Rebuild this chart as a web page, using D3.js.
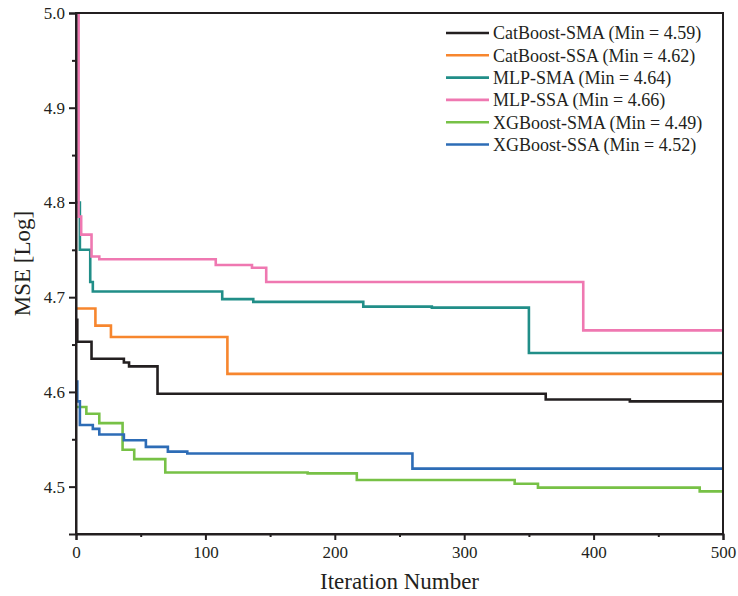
<!DOCTYPE html>
<html>
<head>
    <title>MSE convergence</title>
    <style>
        body {
            margin: 0;
            padding: 0;
            background: #fff;
        }
        svg text {
            font-family: "Liberation Serif", "Times New Roman", serif;
            fill: #231f20;
        }
    </style>
</head>
<body>
    <div id="chart"></div>

    <script src="https://d3js.org/d3.v7.min.js"></script>
    <script>
        // step points (iteration, best MSE so far)
        const catSmaIter = [0, 1, 12, 37, 41, 63, 363, 428, 500];
        const catSmaVal  = [4.676, 4.653, 4.635, 4.631, 4.627, 4.598, 4.592, 4.590, 4.590];

        const catSsaIter = [0, 15, 27, 117, 500];
        const catSsaVal  = [4.688, 4.670, 4.658, 4.619, 4.619];

        const mlpSmaIter = [0, 3, 11, 13, 113, 137, 222, 275, 350, 500];
        const mlpSmaVal  = [4.800, 4.750, 4.716, 4.706, 4.698, 4.695, 4.690, 4.689, 4.641, 4.641];

        const mlpSsaIter = [0, 2, 4, 12, 18, 108, 136, 147, 392, 500];
        const mlpSsaVal  = [5.300, 4.785, 4.766, 4.743, 4.740, 4.734, 4.731, 4.716, 4.665, 4.665];

        const xgbSmaIter = [0, 8, 18, 36, 45, 69, 179, 217, 339, 357, 482, 500];
        const xgbSmaVal  = [4.584, 4.577, 4.567, 4.539, 4.529, 4.515, 4.514, 4.507, 4.503, 4.499, 4.495, 4.495];

        const xgbSsaIter = [0, 1, 3, 13, 18, 37, 54, 71, 86, 260, 500];
        const xgbSsaVal  = [4.611, 4.590, 4.565, 4.561, 4.555, 4.549, 4.542, 4.537, 4.535, 4.519, 4.519];

        const seriesNames = [
            'CatBoost-SMA (Min = 4.59)',
            'CatBoost-SSA (Min = 4.62)',
            'MLP-SMA (Min = 4.64)',
            'MLP-SSA (Min = 4.66)',
            'XGBoost-SMA (Min = 4.49)',
            'XGBoost-SSA (Min = 4.52)'
        ];
        const seriesColors = ['#231f20', '#f7862e', '#218e88', '#ef78b1', '#77c146', '#2d6cb6'];

        const xTicks = [0, 100, 200, 300, 400, 500];
        const yTicks = [4.5, 4.6, 4.7, 4.8, 4.9, 5.0];

        const width = 738, height = 596;
        const margin = { top: 13, right: 15, bottom: 62, left: 76 };
        const innerW = width - margin.left - margin.right;
        const innerH = height - margin.top - margin.bottom;

        const svg = d3.select('#chart').append('svg')
            .attr('width', width)
            .attr('height', height);

        const g = svg.append('g')
            .attr('transform', `translate(${margin.left},${margin.top})`);

        const x = d3.scaleLinear().domain([0, 500]).range([0, innerW]);
        const y = d3.scaleLinear().domain([4.45, 5.0]).range([innerH, 0]);

        g.append('clipPath').attr('id', 'plotClip')
            .append('rect')
            .attr('width', innerW)
            .attr('height', innerH);

        const series = [
            [catSmaIter, catSmaVal],
            [catSsaIter, catSsaVal],
            [mlpSmaIter, mlpSmaVal],
            [mlpSsaIter, mlpSsaVal],
            [xgbSmaIter, xgbSmaVal],
            [xgbSsaIter, xgbSsaVal]
        ].map(([it, v], i) => ({
            name: seriesNames[i],
            color: seriesColors[i],
            points: it.map((d, j) => ({ it: d, v: v[j] }))
        }));

        const line = d3.line()
            .x(d => x(d.it))
            .y(d => y(d.v))
            .curve(d3.curveStepAfter);

        g.append('g')
            .attr('clip-path', 'url(#plotClip)')
            .selectAll('path')
            .data(series)
            .enter().append('path')
            .attr('d', d => line(d.points))
            .attr('fill', 'none')
            .attr('stroke', d => d.color)
            .attr('stroke-width', 2.6);

        // frame
        g.append('rect')
            .attr('width', innerW)
            .attr('height', innerH)
            .attr('fill', 'none')
            .attr('stroke', '#231f20')
            .attr('stroke-width', 2);

        // x axis with minor ticks
        const xAxis = g.append('g')
            .attr('transform', `translate(0,${innerH})`)
            .call(d3.axisBottom(x).tickValues(xTicks).tickSize(6).tickPadding(6).tickFormat(d3.format('d')));
        g.append('g')
            .attr('transform', `translate(0,${innerH})`)
            .call(d3.axisBottom(x).tickValues(d3.range(50, 500, 100)).tickSize(3).tickFormat(''))
            .select('.domain').remove();

        // y axis with minor ticks
        const yAxis = g.append('g')
            .call(d3.axisLeft(y).tickValues(yTicks).tickSize(7).tickPadding(4).tickFormat(d3.format('.1f')));
        g.append('g')
            .call(d3.axisLeft(y).tickValues([4.55, 4.65, 4.75, 4.85, 4.95]).tickSize(4).tickFormat(''))
            .select('.domain').remove();

        svg.selectAll('.tick line').attr('stroke', '#231f20').attr('stroke-width', 2);
        svg.selectAll('.domain').attr('stroke', '#231f20').attr('stroke-width', 2);
        xAxis.selectAll('text').attr('font-size', 17).attr('fill', '#231f20');
        yAxis.selectAll('text').attr('font-size', 17).attr('fill', '#231f20');
        svg.selectAll('.tick text').style('font-family', '"Liberation Serif", serif');

        // axis titles
        svg.append('text')
            .attr('x', margin.left + innerW / 2)
            .attr('y', 589)
            .attr('text-anchor', 'middle')
            .attr('font-size', 23)
            .text('Iteration Number');

        svg.append('text')
            .attr('transform', `translate(30,${margin.top + innerH / 2 - 10}) rotate(-90)`)
            .attr('text-anchor', 'middle')
            .attr('font-size', 23)
            .text('MSE [Log]');

        // legend
        const legend = g.append('g')
            .attr('transform', 'translate(370,20)');

        const item = legend.selectAll('g')
            .data(series)
            .enter().append('g')
            .attr('transform', (d, i) => `translate(0,${i * 22.3})`);

        item.append('line')
            .attr('x1', 0)
            .attr('x2', 43)
            .attr('stroke', d => d.color)
            .attr('stroke-width', 2.6);

        item.append('text')
            .attr('x', 47)
            .attr('dy', '0.35em')
            .attr('font-size', 18)
            .text(d => d.name);
    </script>
</body>
</html>
